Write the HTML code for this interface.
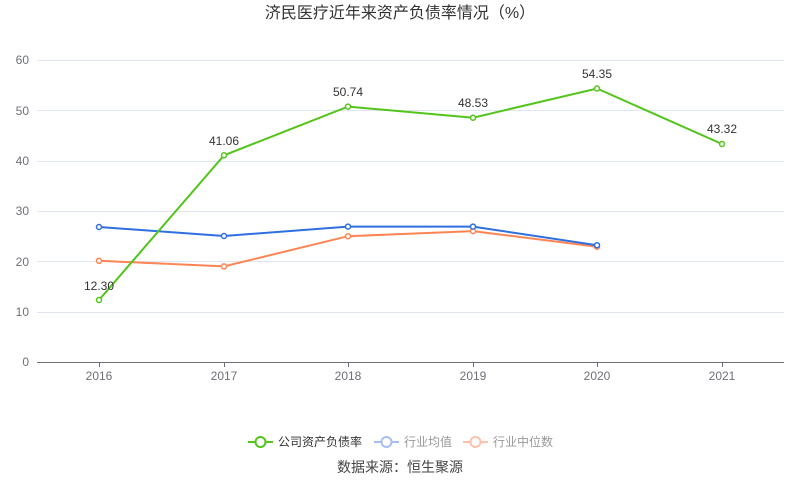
<!DOCTYPE html><html><head><meta charset="utf-8"><style>body{margin:0;background:#fff}svg{display:block}text{font-family:"Liberation Sans","Noto Sans CJK SC",sans-serif}</style></head><body>
<svg width="800" height="501" xmlns="http://www.w3.org/2000/svg">
<text x="400" y="18" font-size="16" fill="#333" text-anchor="middle">济民医疗近年来资产负债率情况（%）</text>
<g stroke="#e0e6f1" stroke-width="1">
<line x1="37" x2="784" y1="60.5" y2="60.5"/><line x1="37" x2="784" y1="110.5" y2="110.5"/><line x1="37" x2="784" y1="161.5" y2="161.5"/><line x1="37" x2="784" y1="211.5" y2="211.5"/><line x1="37" x2="784" y1="261.5" y2="261.5"/><line x1="37" x2="784" y1="312.5" y2="312.5"/></g>
<line x1="37" x2="784" y1="362.5" y2="362.5" stroke="#6e7079"/>
<g stroke="#6e7079"><line x1="99.5" x2="99.5" y1="362" y2="367"/><line x1="224.5" x2="224.5" y1="362" y2="367"/><line x1="348.5" x2="348.5" y1="362" y2="367"/><line x1="473.5" x2="473.5" y1="362" y2="367"/><line x1="597.5" x2="597.5" y1="362" y2="367"/><line x1="722.5" x2="722.5" y1="362" y2="367"/></g>
<g font-size="12" fill="#6e7079" text-anchor="end"><text x="29" y="64">60</text><text x="29" y="115">50</text><text x="29" y="165">40</text><text x="29" y="215">30</text><text x="29" y="266">20</text><text x="29" y="316">10</text><text x="29" y="366">0</text></g>
<g font-size="12" fill="#6e7079" text-anchor="middle"><text x="99" y="380">2016</text><text x="224" y="380">2017</text><text x="348" y="380">2018</text><text x="473" y="380">2019</text><text x="597" y="380">2020</text><text x="722" y="380">2021</text></g>
<polyline fill="none" stroke="#ff8454" stroke-width="2" points="99,260.8 224,266.4 348,236.2 473,231.1 597,246.7"/>
<polyline fill="none" stroke="#2f6fe0" stroke-width="2" points="99,227 224,236 348,226.6 473,226.6 597,245.2"/>
<polyline fill="none" stroke="#52c41a" stroke-width="2" points="99,300 224,155.3 348,106.6 473,117.7 597,88.5 722,144"/>
<g fill="#fff" stroke-width="1.5">
<g stroke="#ff8454"><circle cx="99" cy="260.8" r="2.5"/><circle cx="224" cy="266.4" r="2.5"/><circle cx="348" cy="236.2" r="2.5"/><circle cx="473" cy="231.1" r="2.5"/><circle cx="597" cy="246.7" r="2.5"/></g>
<g stroke="#2f6fe0"><circle cx="99" cy="227" r="2.5"/><circle cx="224" cy="236" r="2.5"/><circle cx="348" cy="226.6" r="2.5"/><circle cx="473" cy="226.6" r="2.5"/><circle cx="597" cy="245.2" r="2.5"/></g>
<g stroke="#52c41a"><circle cx="99" cy="300" r="2.5"/><circle cx="224" cy="155.3" r="2.5"/><circle cx="348" cy="106.6" r="2.5"/><circle cx="473" cy="117.7" r="2.5"/><circle cx="597" cy="88.5" r="2.5"/><circle cx="722" cy="144" r="2.5"/></g></g>
<g font-size="12" fill="#333" text-anchor="middle"><text x="99" y="290">12.30</text><text x="224" y="145">41.06</text><text x="348" y="96">50.74</text><text x="473" y="107">48.53</text><text x="597" y="78">54.35</text><text x="722" y="133">43.32</text></g>
<g stroke-width="2" fill="#fff">
<line x1="248" x2="273" y1="442" y2="442" stroke="#52c41a"/><circle cx="260.5" cy="442" r="5" stroke="#52c41a"/>
<line x1="374" x2="399" y1="442" y2="442" stroke="#a6bff2"/><circle cx="386.5" cy="442" r="5" stroke="#a6bff2"/>
<line x1="463" x2="488" y1="442" y2="442" stroke="#ffc1ac"/><circle cx="475.5" cy="442" r="5" stroke="#ffc1ac"/></g>
<g font-size="12"><text x="278" y="446" fill="#333">公司资产负债率</text><text x="404" y="446" fill="#999">行业均值</text><text x="493" y="446" fill="#999">行业中位数</text></g>
<text x="400" y="472" font-size="14" fill="#444" text-anchor="middle">数据来源：恒生聚源</text>
</svg></body></html>
